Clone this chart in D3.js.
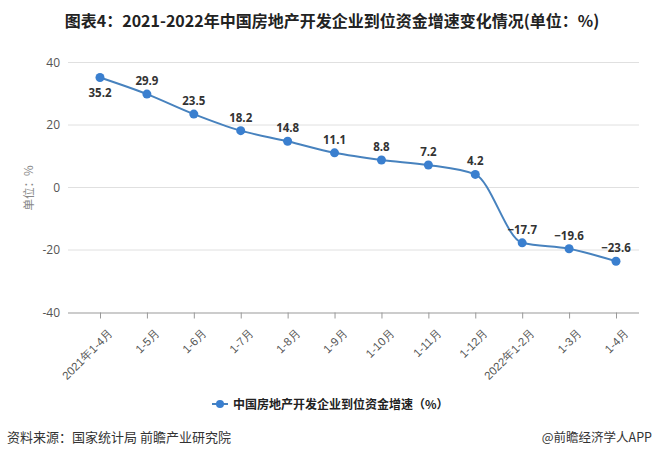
<!DOCTYPE html>
<html><head><meta charset="utf-8">
<script src="https://cdn.jsdelivr.net/npm/d3@7"></script>
<style>body{margin:0;background:#fff;}svg{display:block;font-family:"Noto Sans CJK SC","Microsoft YaHei",sans-serif;}</style>
</head><body><svg id="c" width="657" height="459"></svg>
<script>
const categories = ["2021年1-4月","1-5月","1-6月","1-7月","1-8月","1-9月","1-10月","1-11月","1-12月","2022年1-2月","1-3月","1-4月"];
const values = [35.2,29.9,23.5,18.2,14.8,11.1,8.8,7.2,4.2,-17.7,-19.6,-23.6];
const labels = ["35.2","29.9","23.5","18.2","14.8","11.1","8.8","7.2","4.2","−17.7","−19.6","−23.6"];
const yTicks = [40,20,0,-20,-40];

const svg = d3.select("#c");
const x = d3.scalePoint().domain(categories).range([100,616]);
const y = d3.scaleLinear().domain([-40,40]).range([312.5,62.5]);
const axL = 68, axR = 639;

svg.append("text").attr("x",332).attr("y",27).attr("text-anchor","middle")
  .attr("font-size",16).attr("font-weight","bold").attr("fill","#222")
  .text("图表4：2021-2022年中国房地产开发企业到位资金增速变化情况(单位：%)");

// grid
svg.append("g").selectAll("line").data(yTicks.filter(d=>d!==-40)).join("line")
  .attr("x1",axL).attr("x2",axR).attr("y1",d=>y(d)).attr("y2",d=>y(d))
  .attr("stroke","#e0e0e0").attr("stroke-width",1);
// y labels
const yAxis = d3.axisLeft(y).tickValues(yTicks).tickSize(0).tickPadding(8).tickFormat(d=>d);
const gy = svg.append("g").attr("transform",`translate(${axL},0)`).call(yAxis);
gy.select(".domain").remove();
gy.selectAll("text").attr("font-size",12).attr("fill","#555").attr("font-family","'Open Sans',sans-serif");

// x axis
const gx = svg.append("g").attr("transform",`translate(0,${y(-40)})`)
  .call(d3.axisBottom(x).tickSize(6).tickSizeOuter(0));
gx.select(".domain").attr("d",`M${axL},0.5H${axR}`).attr("stroke","#999");
gx.selectAll(".tick line").attr("stroke","#999");
gx.selectAll("text").attr("font-size",11.5).attr("fill","#555")
  .attr("text-anchor","end").attr("dy","0.35em")
  .attr("transform","translate(4,12) rotate(-45)");

svg.append("text").attr("transform","translate(33,188) rotate(-90)")
  .attr("text-anchor","middle").attr("font-size",11.5).attr("fill","#888").text("单位：%");

// line
const line = d3.line().x((d,i)=>x(categories[i])).y(d=>y(d)).curve(d3.curveMonotoneX);
svg.append("path").datum(values).attr("d",line).attr("fill","none")
  .attr("stroke","#4782be").attr("stroke-width",2);
svg.append("g").selectAll("circle").data(values).join("circle")
  .attr("cx",(d,i)=>x(categories[i])).attr("cy",d=>y(d)).attr("r",4.5).attr("fill","#3a7fcf");
svg.append("g").selectAll("text").data(values).join("text")
  .attr("x",(d,i)=>x(categories[i])).attr("y",(d,i)=>i===0? y(d)+19 : y(d)-9)
  .attr("text-anchor","middle").attr("font-size",11.5).attr("font-weight","bold").attr("fill","#333")
  .attr("font-family","'Open Sans',sans-serif")
  .text((d,i)=>labels[i]);

// legend
const lg = svg.append("g").attr("transform","translate(0,404)");
lg.append("line").attr("x1",212).attr("x2",228).attr("y1",0).attr("y2",0).attr("stroke","#4782be").attr("stroke-width",2);
lg.append("circle").attr("cx",220).attr("cy",0).attr("r",4).attr("fill","#3a7fcf");
lg.append("text").attr("x",233).attr("y",4.5).attr("font-size",12).attr("fill","#222").attr("font-weight","bold")
  .text("中国房地产开发企业到位资金增速（%）");

svg.append("text").attr("x",7).attr("y",442).attr("font-size",13).attr("fill","#333").text("资料来源：国家统计局 前瞻产业研究院");
svg.append("text").attr("x",652).attr("y",442).attr("text-anchor","end").attr("font-size",12.5).attr("fill","#333").text("@前瞻经济学人APP");
</script></body></html>
